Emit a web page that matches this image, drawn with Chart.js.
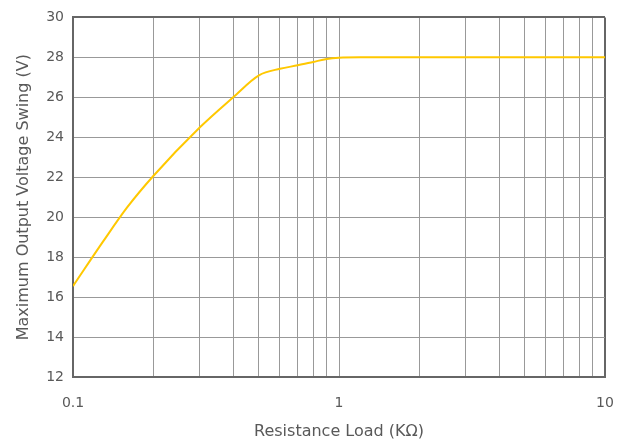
<!DOCTYPE html>
<html>
<head>
<meta charset="utf-8">
<script src="https://cdn.jsdelivr.net/npm/chart.js@4"></script>
<style>
  html, body { margin: 0; padding: 0; background: #fff; }
  #wrap { width: 628px; height: 447px; }
</style>
</head>
<body>
<div id="wrap"><canvas id="swingChart"></canvas></div>
<script>
// resistance load (kOhm) and output swing (V)
const loadK = [0.1, 0.13, 0.16, 0.2, 0.3, 0.4, 0.5, 0.6, 0.7, 0.8, 0.9, 1, 1.2, 2, 5, 10];
const swingV = [16.55, 18.8, 20.5, 22.05, 24.5, 26.0, 27.1, 27.43, 27.6, 27.77, 27.92, 27.98, 28.0, 28.0, 28.0, 28.0];

// grid positions on the log axis and which of them get a label
const xGrid = [0.1, 0.2, 0.3, 0.4, 0.5, 0.6, 0.7, 0.8, 0.9, 1, 2, 3, 4, 5, 6, 7, 8, 9, 10];
const xLabels = [0.1, 1, 10];
const yMin = 12, yMax = 30, yStep = 2;

const textColor = '#595959';
const fontFamily = 'Tahoma, "DejaVu Sans", sans-serif';

const points = loadK.map(function (x, i) { return { x: x, y: swingV[i] }; });

const ctx = document.getElementById('swingChart');
new Chart(ctx, {
    type: 'line',
    data: {
        datasets: [{
            data: points,
            borderColor: '#FFC800',
            borderWidth: 2,
            pointRadius: 0,
            cubicInterpolationMode: 'monotone',
            fill: false
        }]
    },
    options: {
        responsive: true,
        maintainAspectRatio: false,
        animation: false,
        layout: { padding: { left: 14, right: 23, top: 7, bottom: 0 } },
        plugins: {
            legend: { display: false },
            tooltip: { enabled: false }
        },
        scales: {
            x: {
                type: 'logarithmic',
                min: 0.1,
                max: 10,
                afterBuildTicks: function (axis) {
                    axis.ticks = xGrid.map(function (v) { return { value: v }; });
                },
                // fixed band under the plot for labels + title
                afterFit: function (axis) {
                    axis.height = 70;
                    axis.paddingRight = 9;
                },
                ticks: {
                    autoSkip: false,
                    maxRotation: 0,
                    color: textColor,
                    font: { family: fontFamily, size: 14 },
                    padding: 18,
                    callback: function (v) {
                        return xLabels.indexOf(v) >= 0 ? String(v) : '';
                    }
                },
                grid: {
                    color: function (c) {
                        return c.index === xGrid.length - 1 ? '#666' : '#999';
                    },
                    lineWidth: function (c) {
                        return c.index === xGrid.length - 1 ? 2 : 1;
                    },
                    drawTicks: false
                },
                border: { display: true, color: '#666', width: 2 },
                title: {
                    display: true,
                    text: 'Resistance Load (KΩ)',
                    color: textColor,
                    font: { family: fontFamily, size: 16, lineHeight: 1 },
                    padding: { top: 0, bottom: 7 }
                }
            },
            y: {
                min: yMin,
                max: yMax,
                ticks: {
                    stepSize: yStep,
                    color: textColor,
                    font: { family: fontFamily, size: 14 },
                    padding: 9
                },
                grid: {
                    color: function (c) {
                        return c.tick && c.tick.value === yMax ? '#666' : '#999';
                    },
                    lineWidth: function (c) {
                        return c.tick && c.tick.value === yMax ? 2 : 1;
                    },
                    drawTicks: false
                },
                border: { display: true, color: '#666', width: 2 },
                title: {
                    display: true,
                    text: 'Maximum Output Voltage Swing (V)',
                    color: textColor,
                    font: { family: fontFamily, size: 16 },
                    padding: { top: 0, bottom: 4 }
                }
            }
        }
    }
});
</script>
</body>
</html>
